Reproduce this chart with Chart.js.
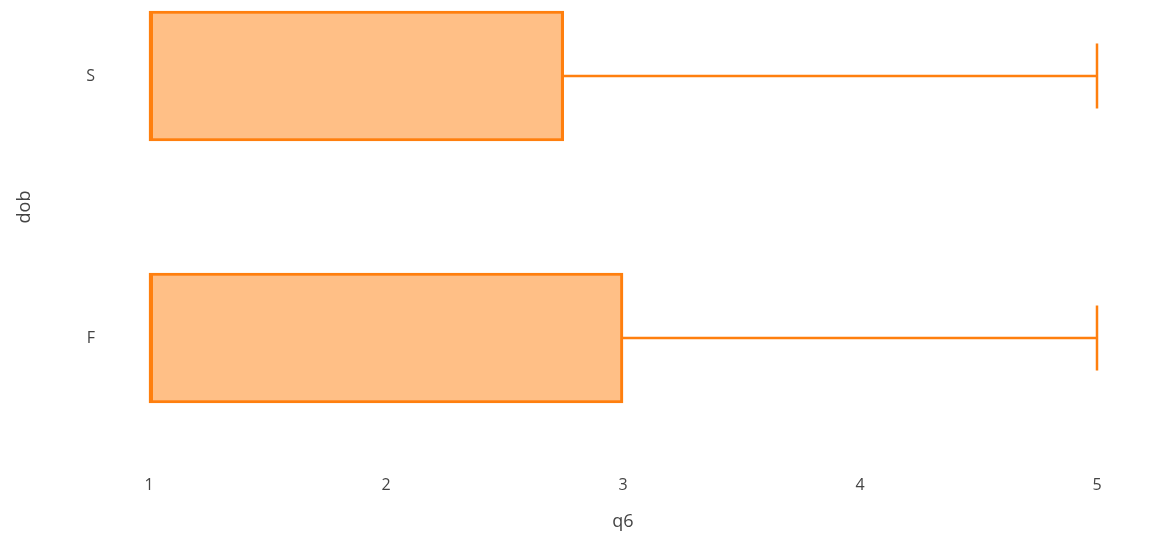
<!DOCTYPE html>
<html>
<head>
<meta charset="utf-8">
<script src="https://cdn.jsdelivr.net/npm/chart.js@4/dist/chart.umd.min.js"></script>
<style>
  html, body { margin: 0; padding: 0; background: #fff; }
  #wrap { width: 1171px; height: 545px; }
</style>
</head>
<body>
<div id="wrap"><canvas id="myChart"></canvas></div>
<script>
// categories top to bottom, y position on the value axis
var groups = ['S', 'F'];
var groupPos = [1, 0];

// box stats per group
var mins = [1, 1];
var q1s = [1, 1];
var medians = [1, 1];
var q3s = [2.75, 3];
var maxs = [5, 5];

var xTicks = [1, 2, 3, 4, 5];

var orange = '#ff7f0e';
var boxFill = 'rgba(255,127,14,0.5)';

var boxData = [];
for (let i = 0; i < groups.length; i++) {
  boxData.push({ x: [q1s[i], q3s[i]], y: groupPos[i] });
}

// whiskers, caps and median drawn on top of the bars, from the scales
const whiskers = {
  id: 'whiskers',
  afterDatasetsDraw(chart) {
    const xs = chart.scales.x;
    const ys = chart.scales.y;
    const bars = chart.getDatasetMeta(0).data;
    const ctx = chart.ctx;
    ctx.save();
    ctx.strokeStyle = orange;
    ctx.lineWidth = 2.5;
    for (let i = 0; i < groups.length; i++) {
      const y = ys.getPixelForValue(groupPos[i]);
      const half = bars[i].height / 4;
      // upper whisker
      ctx.beginPath();
      ctx.moveTo(xs.getPixelForValue(q3s[i]), y);
      ctx.lineTo(xs.getPixelForValue(maxs[i]), y);
      ctx.stroke();
      ctx.beginPath();
      ctx.moveTo(xs.getPixelForValue(maxs[i]), y - half);
      ctx.lineTo(xs.getPixelForValue(maxs[i]), y + half);
      ctx.stroke();
      // lower whisker
      ctx.beginPath();
      ctx.moveTo(xs.getPixelForValue(mins[i]), y);
      ctx.lineTo(xs.getPixelForValue(q1s[i]), y);
      ctx.stroke();
      // median
      const mx = xs.getPixelForValue(medians[i]);
      ctx.lineWidth = 2;
      ctx.beginPath();
      ctx.moveTo(mx + 3, y - bars[i].height / 2);
      ctx.lineTo(mx + 3, y + bars[i].height / 2);
      ctx.stroke();
      ctx.lineWidth = 2.5;
    }
    ctx.restore();
  }
};

Chart.defaults.font.family = '"Open Sans", "DejaVu Sans", sans-serif';
Chart.defaults.color = '#444';

new Chart(document.getElementById('myChart'), {
  type: 'bar',
  data: {
    datasets: [{
      data: boxData,
      backgroundColor: boxFill,
      borderColor: orange,
      borderWidth: 2.5,
      borderSkipped: false,
      barThickness: 130,
      clip: false
    }]
  },
  options: {
    indexAxis: 'y',
    responsive: true,
    maintainAspectRatio: false,
    animation: false,
    layout: { padding: { left: 0, right: 74, top: 0, bottom: 0 } },
    plugins: { legend: { display: false }, tooltip: { enabled: false } },
    scales: {
      x: {
        type: 'linear',
        min: 1,
        max: 5,
        offset: false,
        afterBuildTicks(scale) { scale.ticks = xTicks.map(v => ({ value: v })); },
        afterFit(scale) { scale.height = 131; },
        grid: { display: false, drawTicks: false, tickLength: 0, offset: false },
        border: { display: false },
        ticks: { padding: 62, font: { size: 16 }, color: '#444' },
        title: { display: true, text: 'q6', font: { size: 18 }, color: '#444', padding: { top: 0, bottom: 12 } }
      },
      y: {
        type: 'linear',
        min: -0.29,
        max: 1.29,
        offset: false,
        afterBuildTicks(scale) { scale.ticks = groupPos.map(v => ({ value: v })); },
        afterFit(scale) {
          scale.width = 149;
          scale.paddingTop = 0;
          scale.paddingBottom = 0;
        },
        grid: { display: false, drawTicks: false, tickLength: 0, offset: false },
        border: { display: false },
        ticks: {
          padding: 54,
          font: { size: 16 },
          color: '#444',
          callback: function(v) {
            const i = groupPos.indexOf(v);
            return i >= 0 ? groups[i] : '';
          }
        },
        title: { display: true, text: 'dob', font: { size: 18 }, color: '#444', padding: { top: 14, bottom: 0 } }
      }
    }
  },
  plugins: [whiskers]
});
</script>
</body>
</html>
